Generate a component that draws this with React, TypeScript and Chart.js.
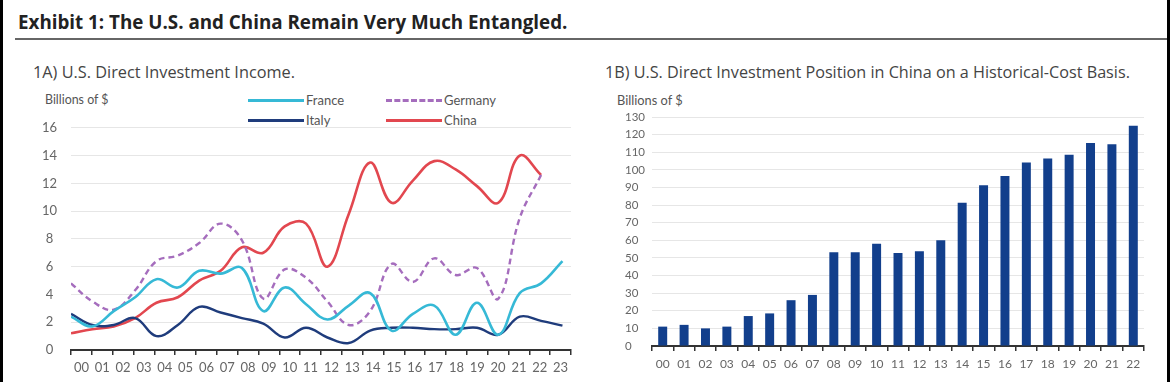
import React, { useEffect, useRef } from "react";
import { Chart, registerables } from "chart.js";

Chart.register(...registerables);

// ---------- Data ----------
const yearLabelsA = ["00","01","02","03","04","05","06","07","08","09","10","11","12","13","14","15","16","17","18","19","20","21","22","23"];
const franceIncome = [2.4,1.7,2.8,3.8,5.1,4.5,5.7,5.5,5.9,2.8,4.5,3.3,2.2,3.2,4.1,1.4,2.6,3.2,1.1,3.4,1.1,4.1,4.8,6.4];
const italyIncome = [2.6,1.8,1.8,2.3,1.0,1.8,3.1,2.7,2.3,1.9,0.9,1.6,0.9,0.5,1.4,1.6,1.6,1.5,1.5,1.6,1.1,2.4,2.1,1.75];
const germanyIncome = [4.8,3.5,2.9,4.3,6.4,6.8,7.7,9.1,7.9,3.7,5.8,5.2,3.5,1.8,2.8,6.2,4.9,6.6,5.4,5.9,3.7,9.5,12.6];
const chinaIncome = [1.2,1.5,1.7,2.3,3.4,3.8,5.0,5.7,7.4,7.0,8.9,9.1,6.0,9.8,13.5,10.6,12.2,13.6,13.0,11.8,10.6,14.0,12.6];
const incomeTicks = { min: 0, max: 16, step: 2 };

const yearLabelsB = ["00","01","02","03","04","05","06","07","08","09","10","11","12","13","14","15","16","17","18","19","20","21","22"];
const positionChina = [11,12,10,11,17,18.5,26,29,53.2,53.2,58,52.8,53.8,60,81.3,91.2,96.5,104.2,106.4,108.5,115.2,114.6,125];
const positionTicks = { min: 0, max: 130, step: 10 };

const FONT = "Lato, 'Open Sans', 'Noto Sans', sans-serif";
const TITLE_FONT = "'Open Sans', 'Noto Sans', sans-serif";
const toPoints = (arr: number[]) => arr.map((v, i) => ({ x: i, y: v }));

function IncomeChart() {
  const ref = useRef<HTMLCanvasElement | null>(null);
  useEffect(() => {
    if (!ref.current) return;
    const chart = new Chart(ref.current, {
      type: "line",
      data: {
        labels: yearLabelsA,
        datasets: [
          { label: "France", data: toPoints(franceIncome), xAxisID: "xl", borderColor: "#36b9d6", borderWidth: 2.6, pointRadius: 0, tension: 0.4, fill: false },
          { label: "Italy", data: toPoints(italyIncome), xAxisID: "xl", borderColor: "#1f3c7c", borderWidth: 2.4, pointRadius: 0, tension: 0.4, fill: false },
          { label: "Germany", data: toPoints(germanyIncome), xAxisID: "xl", borderColor: "#a56dbd", borderDash: [6, 4], borderWidth: 2.4, pointRadius: 0, tension: 0.4, fill: false },
          { label: "China", data: toPoints(chinaIncome), xAxisID: "xl", borderColor: "#e2474f", borderWidth: 2.6, pointRadius: 0, tension: 0.4, fill: false },
        ],
      },
      options: {
        animation: false,
        responsive: false,
        maintainAspectRatio: false,
        layout: { padding: { top: 13, right: 5, left: 0, bottom: 0 } },
        plugins: { legend: { display: false }, tooltip: { enabled: false } },
        scales: {
          x: {
            type: "category",
            offset: true,
            grid: { offset: true, drawOnChartArea: false, color: "#333", lineWidth: 1.5, tickLength: 5 },
            border: { display: true, color: "#333", width: 2 },
            ticks: { color: "#666", padding: 5, maxRotation: 0, autoSkip: false, font: { family: FONT, size: 13 } },
            afterFit: (axis: any) => { axis.height = 32; },
          },
          xl: { type: "linear", display: false, min: 0, max: 23.4 },
          y: {
            min: incomeTicks.min,
            max: incomeTicks.max,
            ticks: { stepSize: incomeTicks.step, color: "#666", padding: 14, crossAlign: "center", font: { family: FONT, size: 13 } },
            grid: { color: "#e6e6e6", drawTicks: false, lineWidth: 1 },
            border: { display: false },
            afterFit: (axis: any) => { axis.width = 42; },
          },
        },
      } as any,
    });
    return () => chart.destroy();
  }, []);
  return <canvas ref={ref} width={547} height={276} style={{ width: 547, height: 276, display: "block" }} />;
}

function PositionChart() {
  const ref = useRef<HTMLCanvasElement | null>(null);
  useEffect(() => {
    if (!ref.current) return;
    const chart = new Chart(ref.current, {
      type: "bar",
      data: {
        labels: yearLabelsB,
        datasets: [
          { label: "Position", data: positionChina, backgroundColor: "#123f8c", barPercentage: 0.42, categoryPercentage: 1 },
        ],
      },
      options: {
        animation: false,
        responsive: false,
        maintainAspectRatio: false,
        layout: { padding: { top: 12, right: 4, left: 0, bottom: 0 } },
        plugins: { legend: { display: false }, tooltip: { enabled: false } },
        scales: {
          x: {
            grid: { offset: true, drawOnChartArea: false, color: "#333", lineWidth: 1.5, tickLength: 5 },
            border: { display: true, color: "#333", width: 2 },
            ticks: { color: "#666", padding: 6, maxRotation: 0, autoSkip: false, font: { family: FONT, size: 12 } },
            afterFit: (axis: any) => { axis.height = 36; },
          },
          y: {
            min: positionTicks.min,
            max: positionTicks.max,
            ticks: { stepSize: positionTicks.step, color: "#666", padding: 2, crossAlign: "far", font: { family: FONT, size: 11.5 } },
            grid: { color: "#e6e6e6", drawTicks: false, lineWidth: 1 },
            border: { display: false },
            afterFit: (axis: any) => { axis.width = 27; },
          },
        },
      } as any,
    });
    return () => chart.destroy();
  }, []);
  return <canvas ref={ref} width={523} height={277} style={{ width: 523, height: 277, display: "block" }} />;
}

const legendItems = [
  { name: "France", color: "#36b9d6", dashed: false, left: 248, top: 100 },
  { name: "Italy", color: "#1f3c7c", dashed: false, left: 248, top: 120 },
  { name: "Germany", color: "#a56dbd", dashed: true, left: 386, top: 100 },
  { name: "China", color: "#e2474f", dashed: false, left: 386, top: 120 },
];

export default function App() {
  useEffect(() => {
    document.body.style.margin = "0";
  }, []);
  const abs = (s: React.CSSProperties): React.CSSProperties => ({ position: "absolute", ...s });
  return (
    <div style={{ position: "fixed", left: 0, top: 0, width: 1170, height: 382, background: "#fff", overflow: "hidden", fontFamily: FONT }}>
      <div style={abs({ left: 0, top: 0, width: 3, height: 382, background: "#000" })} />
      <div style={abs({ left: 1167, top: 0, width: 3, height: 382, background: "#000" })} />
      <div style={abs({ left: 18, top: 9, fontFamily: TITLE_FONT, fontSize: 18.8, fontWeight: 700, color: "#222", whiteSpace: "nowrap", lineHeight: "26px" })}>
        Exhibit 1: The U.S. and China Remain Very Much Entangled.
      </div>
      <div style={abs({ left: 15, top: 38, width: 1152, height: 2, background: "#666" })} />
      <div style={abs({ left: 33, top: 61, fontFamily: TITLE_FONT, fontSize: 16.3, color: "#444", whiteSpace: "nowrap", lineHeight: "22px" })}>
        1A) U.S. Direct Investment Income.
      </div>
      <div style={abs({ left: 605, top: 61, fontFamily: TITLE_FONT, fontSize: 16.2, color: "#444", whiteSpace: "nowrap", lineHeight: "22px" })}>
        1B) U.S. Direct Investment Position in China on a Historical-Cost Basis.
      </div>
      <div style={abs({ left: 45, top: 92, fontSize: 12.4, color: "#555", whiteSpace: "nowrap", lineHeight: "16px" })}>Billions of $</div>
      <div style={abs({ left: 617, top: 92, fontSize: 12.8, color: "#555", whiteSpace: "nowrap", lineHeight: "16px" })}>Billions of $</div>
      {legendItems.map((it) => (
        <div key={it.name} style={abs({ left: it.left, top: it.top - 8, height: 16, display: "flex", alignItems: "center", whiteSpace: "nowrap" })}>
          <div style={{ width: 56, height: 0, borderTop: `3px ${it.dashed ? "dashed" : "solid"} ${it.color}` }} />
          <span style={{ marginLeft: 2, fontSize: 13, color: "#555", lineHeight: "16px" }}>{it.name}</span>
        </div>
      ))}
      <div style={abs({ left: 29, top: 106 })}>
        <IncomeChart />
      </div>
      <div style={abs({ left: 625, top: 105 })}>
        <PositionChart />
      </div>
    </div>
  );
}
